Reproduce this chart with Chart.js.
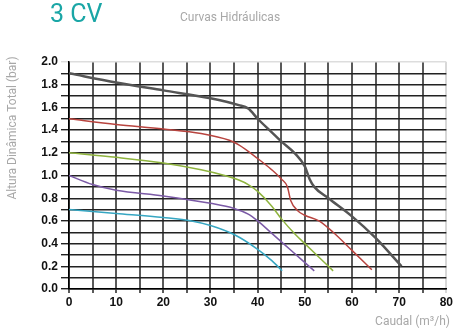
<!DOCTYPE html>
<html>
<head>
<meta charset="utf-8">
<script src="https://cdn.jsdelivr.net/npm/chart.js@4.4.1/dist/chart.umd.min.js"></script>
<style>
  html, body { margin: 0; padding: 0; background: #fff; }
</style>
</head>
<body>
<canvas id="curvas" width="455" height="331"></canvas>
<script>
// Caudal (m³/h) e altura (bar) de cada curva
const caudalA = [0, 10, 20, 30, 36, 38, 40, 43, 45, 48, 50, 51, 52, 55, 60, 65, 70.5];
const alturaA = [1.9, 1.82, 1.75, 1.68, 1.62, 1.59, 1.5, 1.38, 1.3, 1.19, 1.08, 0.97, 0.9, 0.8, 0.64, 0.45, 0.2];

const caudalB = [0, 10, 20, 28, 34, 36, 40, 43, 45, 46.3, 47, 48.5, 50, 53, 56, 60, 64.2];
const alturaB = [1.5, 1.45, 1.41, 1.37, 1.31, 1.27, 1.15, 1.05, 0.97, 0.9, 0.78, 0.69, 0.65, 0.6, 0.5, 0.34, 0.17];

const caudalC = [0, 10, 20, 28, 33, 36, 38, 40, 43, 45, 48, 50, 53, 56];
const alturaC = [1.2, 1.16, 1.11, 1.05, 1.0, 0.96, 0.92, 0.86, 0.73, 0.62, 0.48, 0.4, 0.28, 0.16];

const caudalD = [0, 5, 10, 20, 30, 35, 38, 40, 43, 46, 49, 52];
const alturaD = [1.0, 0.92, 0.87, 0.82, 0.755, 0.71, 0.66, 0.6, 0.49, 0.38, 0.27, 0.16];

const caudalE = [0, 10, 20, 26, 30, 35, 40, 43, 45.2];
const alturaE = [0.7, 0.665, 0.63, 0.6, 0.56, 0.48, 0.35, 0.25, 0.16];

const curvas = [
  { x: caudalA, y: alturaA, cor: '#555555', largura: 2.5 },
  { x: caudalB, y: alturaB, cor: '#b8443f', largura: 1.5 },
  { x: caudalC, y: alturaC, cor: '#8fb43e', largura: 1.5 },
  { x: caudalD, y: alturaD, cor: '#7b5aa6', largura: 1.5 },
  { x: caudalE, y: alturaE, cor: '#36a6c2', largura: 1.5 }
];

const datasets = curvas.map(c => ({
  data: c.x.map((v, i) => ({ x: v, y: c.y[i] })),
  borderColor: c.cor,
  borderWidth: c.largura,
  pointRadius: 0,
  fill: false,
  cubicInterpolationMode: 'monotone'
}));

// títulos e nomes dos eixos
const textos = {
  id: 'textos',
  afterDraw(chart) {
    const ctx = chart.ctx;
    ctx.save();
    ctx.textBaseline = 'middle';
    ctx.fillStyle = '#1aa6a6';
    ctx.font = '25px Roboto';
    ctx.textAlign = 'left';
    ctx.fillText('3 CV', 50, 16);
    ctx.fillStyle = '#a8a8a8';
    ctx.font = '12px Roboto';
    ctx.fillText('Curvas Hidráulicas', 180, 18);
    ctx.textAlign = 'right';
    ctx.fillText('Caudal (m³/h)', 450, 322);
    ctx.translate(13, 128);
    ctx.rotate(-Math.PI / 2);
    ctx.textAlign = 'center';
    ctx.fillText('Altura Dinâmica Total (bar)', 0, 0);
    ctx.restore();
  }
};

const ctx = document.getElementById('curvas').getContext('2d');
new Chart(ctx, {
  type: 'line',
  data: { datasets: datasets },
  options: {
    responsive: false,
    animation: false,
    layout: { padding: { top: 62, right: 7, left: 0, bottom: 0 } },
    plugins: { legend: { display: false }, tooltip: { enabled: false } },
    scales: {
      x: {
        type: 'linear',
        min: 0,
        max: 80,
        afterFit: s => { s.height = 42; },
        border: { color: '#000', width: 1.5 },
        grid: {
          color: c => c.tick.value === 80 ? '#d8d8d8' : '#5a5a5a',
          lineWidth: 2,
          tickLength: 4
        },
        ticks: {
          stepSize: 5,
          autoSkip: false,
          maxRotation: 0,
          color: '#111',
          font: { family: 'Liberation Sans', size: 12, weight: 'bold' },
          padding: 2,
          callback: v => v % 10 === 0 ? v : ''
        }
      },
      y: {
        min: 0,
        max: 2,
        afterFit: s => { s.width = 69; },
        border: { color: '#000', width: 1.5 },
        grid: {
          color: c => Math.abs(c.tick.value - 2) < 0.001 ? '#dddddd' : '#222222',
          lineWidth: 1.4,
          tickLength: 8
        },
        ticks: {
          stepSize: 0.1,
          autoSkip: false,
          color: '#111',
          font: { family: 'Liberation Sans', size: 12, weight: 'bold' },
          padding: 3,
          callback: v => Math.round(v * 10) % 2 === 0 ? v.toFixed(1) : ''
        }
      }
    }
  },
  plugins: [textos]
});
</script>
</body>
</html>
